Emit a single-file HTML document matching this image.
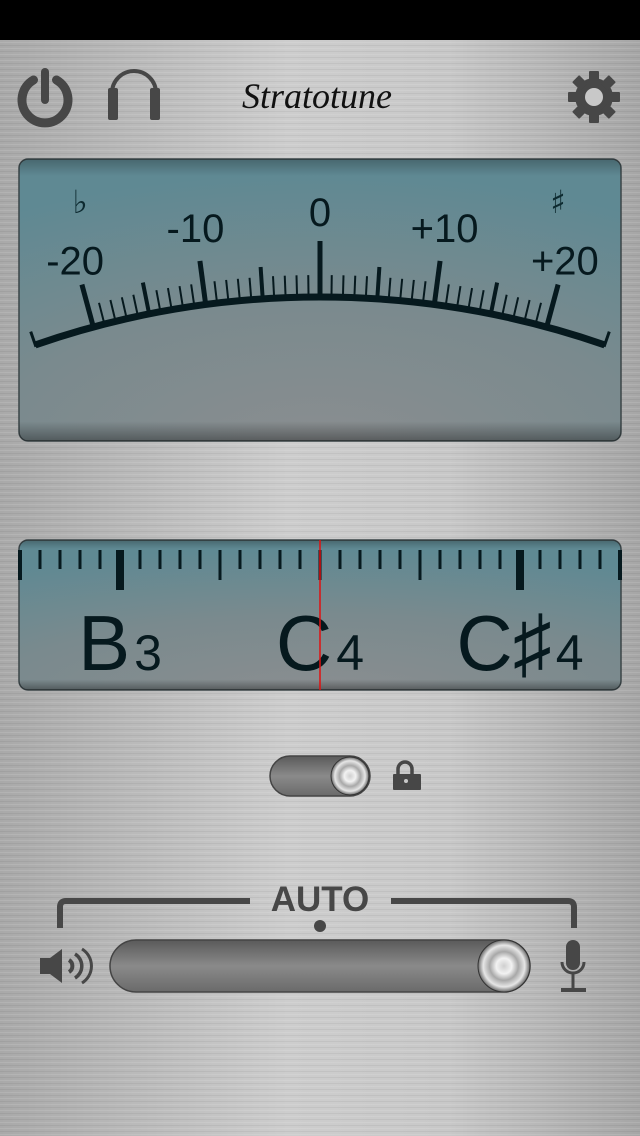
<!DOCTYPE html>
<html><head><meta charset="utf-8"><style>
html,body{margin:0;padding:0;width:640px;height:1136px;overflow:hidden;background:#c4c4c4}
svg{display:block}
</style></head><body>
<svg id="s" width="640" height="1136" viewBox="0 0 640 1136" xmlns="http://www.w3.org/2000/svg">
<defs>
<linearGradient id="metal" x1="0" y1="0" x2="1" y2="0">
<stop offset="0" stop-color="#a9a9a9"/><stop offset="0.45" stop-color="#cdcdcd"/><stop offset="0.7" stop-color="#c8c8c8"/><stop offset="1" stop-color="#a6a6a6"/>
</linearGradient>
<pattern id="brush" width="640" height="6" patternUnits="userSpaceOnUse">
<rect y="0" width="640" height="1" fill="#ffffff" opacity="0.10"/>
<rect y="3" width="640" height="1" fill="#000000" opacity="0.05"/>
</pattern>
<radialGradient id="lcd" cx="0.5" cy="1.05" r="1.0">
<stop offset="0" stop-color="#8b8e90"/><stop offset="0.55" stop-color="#7a8a8e"/><stop offset="1" stop-color="#5f8993"/>
</radialGradient>
<linearGradient id="lcdShade" x1="0" y1="0" x2="0" y2="1">
<stop offset="0" stop-color="#000" stop-opacity="0.25"/><stop offset="0.06" stop-color="#000" stop-opacity="0"/><stop offset="0.93" stop-color="#000" stop-opacity="0"/><stop offset="1" stop-color="#000" stop-opacity="0.35"/>
</linearGradient>
<linearGradient id="track" x1="0" y1="0" x2="0" y2="1">
<stop offset="0" stop-color="#5a5a5a"/><stop offset="0.5" stop-color="#8a8a8a"/><stop offset="1" stop-color="#6a6a6a"/>
</linearGradient>
<radialGradient id="knob" cx="0.5" cy="0.5" r="0.5">
<stop offset="0" stop-color="#cfcfcf"/><stop offset="0.3" stop-color="#f2f2f2"/><stop offset="0.55" stop-color="#a8a8a8"/><stop offset="0.8" stop-color="#e6e6e6"/><stop offset="1" stop-color="#6a6a6a"/>
</radialGradient>
</defs>
<rect width="640" height="1136" fill="url(#metal)"/>
<rect width="640" height="1136" fill="url(#brush)"/>
<rect width="640" height="40" fill="#000"/>

<g fill="none" stroke="#474747">
<path d="M33.5,80 A23,23 0 1 0 56.5,80" stroke-width="9" stroke-linecap="round"/>
<line x1="45" y1="72" x2="45" y2="100" stroke-width="8" stroke-linecap="round"/>
</g>
<g>
<path d="M112,110 V93 A22,22 0 0 1 156,93 V110" fill="none" stroke="#474747" stroke-width="4"/>
<rect x="108" y="88" width="10" height="32" rx="2" fill="#474747"/>
<rect x="150" y="88" width="10" height="32" rx="2" fill="#474747"/>
</g>
<text x="317" y="108" text-anchor="middle" font-family="'Liberation Serif',serif" font-style="italic" font-size="36" fill="#111">Stratotune</text>
<g transform="translate(594,97)">
<circle r="19" fill="#474747"/>
<g fill="#474747" id="teeth"></g>
<circle r="9" fill="#c8c8c8"/>
</g>

<g>
<rect x="19" y="159" width="602" height="282" rx="9" fill="url(#lcd)" stroke="#3a4447" stroke-width="1.5"/>
<rect x="19" y="159" width="602" height="282" rx="9" fill="url(#lcdShade)"/>
<g id="meter"></g>
</g>

<g>
<rect x="19" y="540" width="602" height="150" rx="9" fill="url(#lcd)" stroke="#3a4447" stroke-width="1.5"/>
<rect x="19" y="540" width="602" height="150" rx="9" fill="url(#lcdShade)"/>
<g id="strip"></g>
</g>

<g>
<rect x="270" y="756" width="100" height="40" rx="20" fill="url(#track)" stroke="#444" stroke-width="1.5"/>
<circle cx="350" cy="776" r="19" fill="url(#knob)" stroke="#333" stroke-width="1"/>
</g>
<g>
<path d="M398,776 V769 A7,7 0 0 1 412,769 V776" fill="none" stroke="#474747" stroke-width="3.5"/>
<rect x="393" y="774" width="28" height="16" rx="1" fill="#474747"/>
<circle cx="406" cy="781" r="2" fill="#c8c8c8"/>
</g>

<g fill="none" stroke="#474747" stroke-width="6">
<path d="M60,928 V907 Q60,901 66,901 H250"/>
<path d="M391,901 H568 Q574,901 574,907 V928"/>
</g>
<text x="320" y="911" text-anchor="middle" font-family="'Liberation Sans',sans-serif" font-weight="bold" font-size="35" fill="#474747">AUTO</text>
<circle cx="320" cy="926" r="6" fill="#474747"/>
<g>
<rect x="110" y="940" width="420" height="52" rx="26" fill="url(#track)" stroke="#444" stroke-width="1.5"/>
<circle cx="504" cy="966" r="26" fill="url(#knob)" stroke="#333" stroke-width="1"/>
</g>
<g fill="#474747" stroke="#474747">
<path d="M40,958 H50 L62,949 V983 L50,974 H40 Z" stroke="none"/>
<path d="M69,960 A7,7 0 0 1 69,972" fill="none" stroke-width="4"/>
<path d="M75,954 A14,14 0 0 1 75,978" fill="none" stroke-width="3.5"/>
<path d="M82,949 A20,20 0 0 1 82,983" fill="none" stroke-width="3"/>
</g>
<g>
<rect x="566" y="940" width="14" height="30" rx="7" fill="#474747"/>
<path d="M562,962 A11,11 0 0 0 584,962" fill="none" stroke="#474747" stroke-width="3"/>
<line x1="573" y1="974" x2="573" y2="988" stroke="#474747" stroke-width="3"/>
<line x1="561" y1="990" x2="586" y2="990" stroke="#474747" stroke-width="4"/>
</g>
</svg>
<script>
// ---- meter data ----
const meterCents = [-20,-19,-18,-17,-16,-15,-14,-13,-12,-11,-10,-9,-8,-7,-6,-5,-4,-3,-2,-1,0,1,2,3,4,5,6,7,8,9,10,11,12,13,14,15,16,17,18,19,20];
const meterLabelValues = [-20,-10,0,10,20];
const meterLabelText = ["-20","-10","0","+10","+20"];
// ---- strip data ----
const stripTicks = [-15,-14,-13,-12,-11,-10,-9,-8,-7,-6,-5,-4,-3,-2,-1,0,1,2,3,4,5,6,7,8,9,10,11,12,13,14,15];
const noteNames = ["B","C","C\u266F"];
const noteOctaves = ["3","4","4"];
const noteOffsets = [-10,0,10];

const NS="http://www.w3.org/2000/svg";
function mk(tag,attrs,parent){const e=document.createElementNS(NS,tag);for(const k in attrs)e.setAttribute(k,attrs[k]);parent.appendChild(e);return e;}

const teeth=document.getElementById('teeth');
for(let i=0;i<8;i++){const r=mk('rect',{x:-5,y:-26,width:10,height:12,rx:1,transform:'rotate('+(i*45)+')'},teeth);

}

const CX=320, CY=1167, R=870, DEG=0.755;
function ang(c){return c*DEG*Math.PI/180;}
function pt(c,r){const a=ang(c);return [CX+r*Math.sin(a), CY-r*Math.cos(a)];}
const meter=document.getElementById('meter');
const aS=pt(-25.3,R), aE=pt(25.3,R);
const arc=mk('path',{d:`M${aS[0]},${aS[1]} A${R},${R} 0 0 1 ${aE[0]},${aE[1]}`,fill:'none',stroke:'#06191e','stroke-width':7},meter);


[-25.3,25.3].forEach(c=>{const a=pt(c,R-2),b=pt(c,R+14);
const l=mk('line',{x1:a[0],y1:a[1],x2:b[0],y2:b[1],stroke:'#06191e','stroke-width':3},meter);

});
meterCents.forEach(c=>{
  let len=22,w=2;
  if(c%10===0){len=44;w=5;} else if(c%5===0){len=32;w=4;}
  if(c===0){len=56;w=5;}
  const a=pt(c,R),b=pt(c,R+len);
  const l=mk('line',{x1:a[0],y1:a[1],x2:b[0],y2:b[1],stroke:'#06191e','stroke-width':w},meter);
  
  
});
meterLabelValues.forEach((v,i)=>{
  const p=pt(v,956-Math.abs(v)*0.8);
  const t=mk('text',{x:p[0],y:p[1]+15,'text-anchor':'middle','font-family':"'Liberation Sans',sans-serif",'font-size':40,fill:'#06191e'},meter);
  t.textContent=meterLabelText[i];
  
  
});
const fl=mk('text',{x:80,y:213,'text-anchor':'middle','font-family':"'DejaVu Sans',sans-serif",'font-size':32,fill:'#0d2a30'},meter);
fl.textContent='\u266D';


const sh=mk('text',{x:558,y:213,'text-anchor':'middle','font-family':"'DejaVu Sans',sans-serif",'font-size':32,fill:'#0d2a30'},meter);
sh.textContent='\u266F';



const strip=document.getElementById('strip');
function sx(v){return 320+v*20;}
stripTicks.forEach(v=>{
  const x=sx(v); if(x<20||x>620) return;
  let y2=569,w=3;
  if(v%10===0&&v!==0){y2=590;w=8;} else if(v%5===0){y2=580;w=3;}
  if(Math.abs(v)===15){w=4;}
  const l=mk('line',{x1:x,y1:550,x2:x,y2:y2,stroke:'#06191e','stroke-width':w},strip);
  
  
});
noteNames.forEach((n,i)=>{
  const cx=sx(noteOffsets[i]);
  const t=mk('text',{x:cx,y:670,'text-anchor':'middle','font-family':"'Liberation Sans','DejaVu Sans',sans-serif",'font-size':78,fill:'#06191e'},strip);
  const m=document.createElementNS(NS,'tspan');m.textContent=n;t.appendChild(m);
  const o=document.createElementNS(NS,'tspan');o.setAttribute('font-size','50');o.setAttribute('dx','4');o.textContent=noteOctaves[i];t.appendChild(o);
  
  
});
const red=mk('line',{x1:320,y1:540,x2:320,y2:690,stroke:'#e01010','stroke-width':1.5},strip);


</script>
</body></html>
